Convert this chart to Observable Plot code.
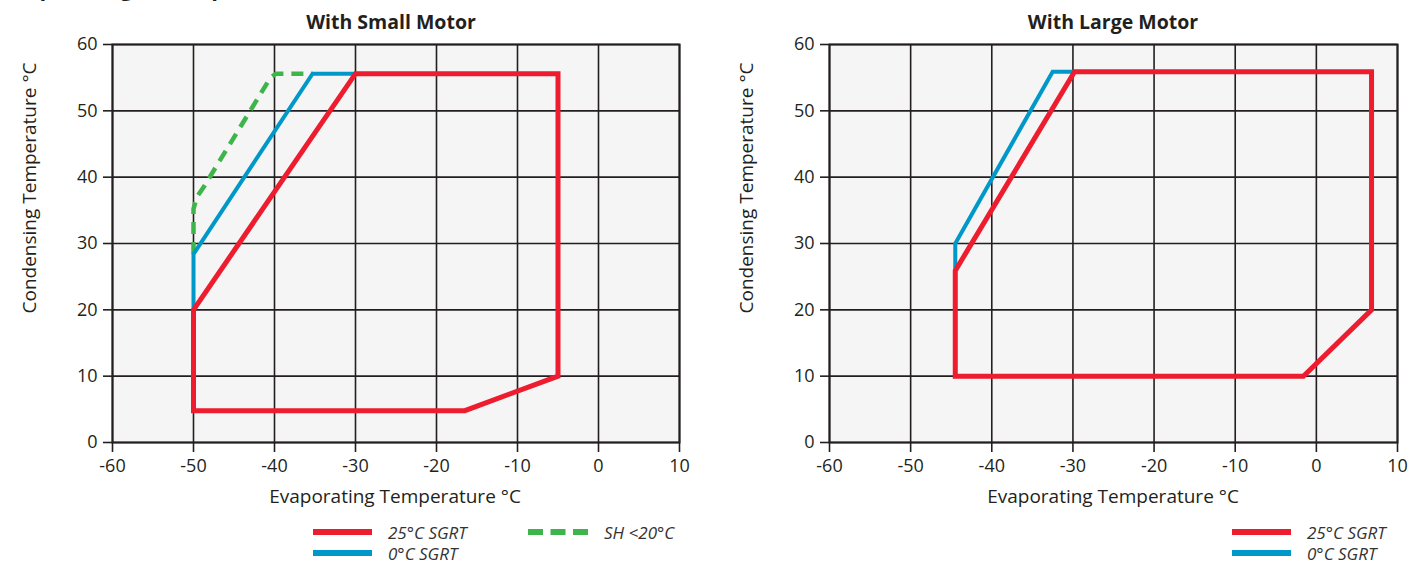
<!DOCTYPE html>
<html>
<head>
<meta charset="utf-8">
<script src="https://cdn.jsdelivr.net/npm/d3@7"></script>
<script src="https://cdn.jsdelivr.net/npm/@observablehq/plot@0.6"></script>
<style>
  html, body { margin: 0; padding: 0; background: #ffffff; }
  #root { position: relative; width: 1408px; height: 565px; overflow: hidden; font-family: "Open Sans", sans-serif; color: #231f20; }
  .abs { position: absolute; white-space: nowrap; }
  .title { font-weight: 700; font-size: 19.5px; line-height: 1; transform: translateX(-50%); }
  .xlabel { font-size: 19px; line-height: 1; transform: translateX(-50%); }
  .ylabel { font-size: 19px; line-height: 1; transform: translate(-50%, -50%) rotate(-90deg); }
  .legtext { font-style: italic; font-size: 17px; line-height: 1; transform: translateY(-50%); color: #333; }
  .swatch { position: absolute; height: 6px; transform: translateY(-50%); }
</style>
</head>
<body>
<div id="root"></div>
<script>
// Axis ticks
const xTicks = [-60, -50, -40, -30, -20, -10, 0, 10];
const yTicks = [0, 10, 20, 30, 40, 50, 60];

// With Small Motor
const smallRedX = [-50, -30, -5, -5, -16.5, -50];
const smallRedY = [20, 55.6, 55.6, 10, 4.8, 4.8];
const smallBlueX = [-50, -50, -35.3, -30];
const smallBlueY = [20, 28.4, 55.6, 55.6];
const smallGreenX = [-50, -50, -49.6, -48.8, -40.5, -39.8, -35.3];
const smallGreenY = [28.4, 35.2, 37, 38.4, 55, 55.6, 55.6];

// With Large Motor
const largeRedX = [-44.5, -29.8, 6.8, 6.8, -1.6, -44.5];
const largeRedY = [25.9, 55.9, 55.9, 20, 10, 10];
const largeBlueX = [-44.5, -44.5, -32.5, -29.8];
const largeBlueY = [25.9, 30, 55.9, 55.9];

const heading = "Operating Envelope";
const titles = ["With Small Motor", "With Large Motor"];
const xLabel = "Evaporating Temperature °C";
const yLabel = "Condensing Temperature °C";
const seriesNames = ["25°C SGRT", "0°C SGRT", "SH <20°C"];

const RED = "#ed1c2e", BLUE = "#0098c8", GREEN = "#3db54a", INK = "#231f20";

const pts = (X, Y) => X.map((x, i) => ({x, y: Y[i]}));

function chart(lineMarks, marginLeft, marginRight) {
  return Plot.plot({
    width: 704, height: 510,
    marginLeft, marginRight, marginTop: 44, marginBottom: 68,
    x: {domain: [-60, 10]},
    y: {domain: [0, 60]},
    style: {fontFamily: "Open Sans", fontSize: "18px", color: INK, background: "transparent", overflow: "visible"},
    marks: [
      Plot.frame({fill: "#f4f5f4", stroke: null}),
      Plot.gridX(xTicks, {stroke: INK, strokeOpacity: 1, strokeWidth: 1.6}),
      Plot.gridY(yTicks, {stroke: INK, strokeOpacity: 1, strokeWidth: 1.6}),
      Plot.frame({stroke: INK, strokeWidth: 2}),
      Plot.axisX(xTicks, {tickSize: 10, tickPadding: 7, label: null, stroke: INK, strokeWidth: 1.6, tickFormat: d => String(d)}),
      Plot.axisY(yTicks, {tickSize: 9, tickPadding: 6, label: null, stroke: INK, strokeWidth: 1.6, tickFormat: d => String(d)}),
      ...lineMarks
    ]
  });
}

const lineOpts = (stroke, w, extra = {}) => ({x: "x", y: "y", stroke, strokeWidth: w, strokeLinejoin: "miter", strokeMiterlimit: 10, ...extra});

const left = chart([
  Plot.line(pts(smallGreenX, smallGreenY), lineOpts(GREEN, 4.5, {strokeDasharray: "12,8", strokeLinecap: "butt"})),
  Plot.line(pts(smallBlueX, smallBlueY), lineOpts(BLUE, 4)),
  Plot.line(pts(smallRedX, smallRedY), lineOpts(RED, 5, {curve: "linear-closed"}))
], 112, 25);

const right = chart([
  Plot.line(pts(largeBlueX, largeBlueY), lineOpts(BLUE, 4)),
  Plot.line(pts(largeRedX, largeRedY), lineOpts(RED, 5, {curve: "linear-closed"}))
], 125, 11);

const root = document.getElementById("root");
function place(el, x, y) { el.style.position = "absolute"; el.style.left = x + "px"; el.style.top = y + "px"; root.appendChild(el); return el; }
place(left, 0, 0);
place(right, 704, 0);

function text(cls, str, x, y) {
  const d = document.createElement("div");
  d.className = "abs " + cls;
  d.textContent = str;
  return place(d, x, y);
}

// Page heading, cut off at the top edge as in the reference
const h = text("", heading, 22, -24);
h.style.fontWeight = "700"; h.style.fontSize = "22px"; h.style.lineHeight = "22px";

text("title", titles[0], 391, 12);
text("title", titles[1], 1113, 12);
text("xlabel", xLabel, 395, 487);
text("xlabel", xLabel, 1113, 487);
text("ylabel", yLabel, 29, 188);
text("ylabel", yLabel, 746, 188);

function swatch(x, y, color) {
  const s = document.createElement("div");
  s.className = "swatch";
  s.style.width = "59px";
  s.style.background = color;
  return place(s, x, y);
}
function dashSwatch(x, y, color) {
  const s = document.createElementNS("http://www.w3.org/2000/svg", "svg");
  s.setAttribute("width", 60); s.setAttribute("height", 8);
  const l = document.createElementNS("http://www.w3.org/2000/svg", "line");
  l.setAttribute("x1", 0); l.setAttribute("x2", 60); l.setAttribute("y1", 4); l.setAttribute("y2", 4);
  l.setAttribute("stroke", color); l.setAttribute("stroke-width", 6); l.setAttribute("stroke-dasharray", "15,7.5");
  s.appendChild(l);
  s.style.position = "absolute";
  return place(s, x, y - 4);
}

// Left legend
swatch(313, 532, RED); text("legtext", seriesNames[0], 388, 532);
swatch(313, 553, BLUE); text("legtext", seriesNames[1], 388, 553);
dashSwatch(528, 532, GREEN); text("legtext", seriesNames[2], 604, 532);
// Right legend
swatch(1232, 532, RED); text("legtext", seriesNames[0], 1307, 532);
swatch(1232, 553, BLUE); text("legtext", seriesNames[1], 1307, 553);
</script>
</body>
</html>
